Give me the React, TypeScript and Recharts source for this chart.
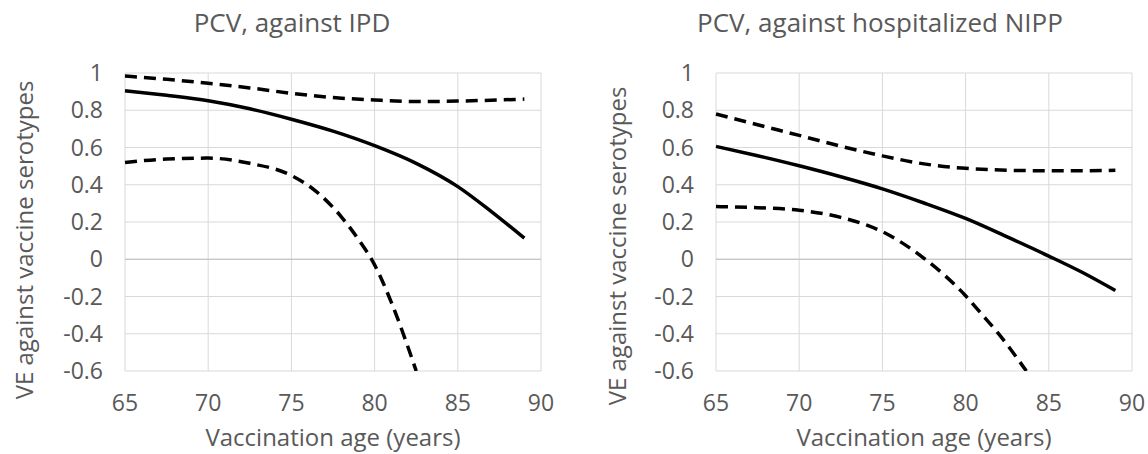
import React from "react";
import { LineChart, Line, XAxis, YAxis, CartesianGrid, ReferenceLine, Label } from "recharts";

const FONT = "'Open Sans', sans-serif";
const TEXT = "#595959";

const ageTicks = [65, 70, 75, 80, 85, 90];
const veTicks = [-0.6, -0.4, -0.2, 0, 0.2, 0.4, 0.6, 0.8, 1];

// ages shared by the mean curve and the upper bound
const ages = [65, 67.5, 70, 72.5, 75, 77.5, 80, 82.5, 85, 87, 89];

// PCV, against IPD
const ipdMean = [0.905, 0.88, 0.851, 0.808, 0.752, 0.688, 0.61, 0.515, 0.39, 0.257, 0.113];
const ipdUpper = [0.984, 0.966, 0.945, 0.92, 0.891, 0.868, 0.855, 0.847, 0.849, 0.854, 0.86];
const ipdLowerAges = [65, 67.5, 70, 72.5, 75, 76.5, 78, 79, 80, 81, 82, 82.5];
const ipdLower = [0.52, 0.538, 0.543, 0.515, 0.45, 0.363, 0.228, 0.11, -0.03, -0.23, -0.47, -0.6];

// PCV, against hospitalized NIPP
const nippMean = [0.606, 0.556, 0.502, 0.443, 0.378, 0.302, 0.219, 0.12, 0.017, -0.07, -0.168];
const nippUpper = [0.78, 0.722, 0.665, 0.607, 0.555, 0.512, 0.488, 0.478, 0.475, 0.475, 0.478];
const nippLowerAges = [65, 67.5, 70, 72.5, 75, 77.5, 80, 81, 82, 83.65];
const nippLower = [0.283, 0.277, 0.263, 0.225, 0.148, 0.005, -0.196, -0.298, -0.402, -0.6];

const toPoints = (xs: number[], ys: number[]) => xs.map((age, i) => ({ age, ve: ys[i] }));

interface PanelProps {
  title: string;
  titleX: number;
  mean: number[];
  upper: number[];
  lowerAges: number[];
  lower: number[];
  yAxisWidth: number;
  marginRight: number;
  yLabelX: number;
  yLabelY: number;
}

const Panel: React.FC<PanelProps> = ({
  title,
  titleX,
  mean,
  upper,
  lowerAges,
  lower,
  yAxisWidth,
  marginRight,
  yLabelX,
  yLabelY,
}) => {
  const tick = { fill: TEXT, fontSize: 23, fontFamily: FONT };
  return (
    <div style={{ position: "relative", width: 574, height: 454 }}>
      <svg width={574} height={50} style={{ position: "absolute", left: 0, top: 0 }}>
        <text x={titleX} y={32} textAnchor="middle" fill={TEXT} fontSize={26} fontFamily={FONT}>
          {title}
        </text>
      </svg>
      <LineChart width={574} height={454} margin={{ top: 73, right: marginRight, bottom: 0, left: 0 }}>
        <CartesianGrid stroke="#d9d9d9" strokeWidth={1} />
        <XAxis
          type="number"
          dataKey="age"
          domain={[65, 90]}
          ticks={ageTicks}
          interval={0}
          axisLine={false}
          tickLine={false}
          tickSize={0}
          tickMargin={24}
          height={83}
          tick={tick}
        >
          <Label
            content={(props: any) => {
              const vb = props.viewBox || {};
              return (
                <text
                  x={vb.x + vb.width / 2}
                  y={vb.y + 75}
                  textAnchor="middle"
                  fill={TEXT}
                  fontSize={24}
                  fontFamily={FONT}
                >
                  Vaccination age (years)
                </text>
              );
            }}
          />
        </XAxis>
        <YAxis
          type="number"
          domain={[-0.6, 1]}
          ticks={veTicks}
          interval={0}
          allowDataOverflow
          axisLine={false}
          tickLine={false}
          tickSize={0}
          tickMargin={22}
          width={yAxisWidth}
          tick={tick}
          tickFormatter={(v: number) => String(v)}
        >
          <Label
            content={() => (
              <text
                x={yLabelX}
                y={yLabelY}
                transform={`rotate(-90 ${yLabelX} ${yLabelY})`}
                textAnchor="middle"
                fill={TEXT}
                fontSize={24}
                fontFamily={FONT}
              >
                VE against vaccine serotypes
              </text>
            )}
          />
        </YAxis>
        <ReferenceLine y={0} stroke="#bfbfbf" strokeWidth={1} />
        <Line
          data={toPoints(ages, upper)}
          dataKey="ve"
          type="monotone"
          stroke="#000"
          strokeWidth={3.5}
          strokeDasharray="12 7"
          dot={false}
          isAnimationActive={false}
        />
        <Line
          data={toPoints(ages, mean)}
          dataKey="ve"
          type="monotone"
          stroke="#000"
          strokeWidth={3.5}
          dot={false}
          isAnimationActive={false}
        />
        <Line
          data={toPoints(lowerAges, lower)}
          dataKey="ve"
          type="monotone"
          stroke="#000"
          strokeWidth={3.5}
          strokeDasharray="12 7"
          dot={false}
          isAnimationActive={false}
        />
      </LineChart>
    </div>
  );
};

export default function App() {
  return (
    <div
      style={{
        position: "absolute",
        left: 0,
        top: 0,
        width: 1148,
        height: 454,
        background: "#fff",
        display: "flex",
      }}
    >
      <Panel
        title="PCV, against IPD"
        titleX={292}
        mean={ipdMean}
        upper={ipdUpper}
        lowerAges={ipdLowerAges}
        lower={ipdLower}
        yAxisWidth={125}
        marginRight={33}
        yLabelX={33}
        yLabelY={240}
      />
      <Panel
        title="PCV, against hospitalized NIPP"
        titleX={306}
        mean={nippMean}
        upper={nippUpper}
        lowerAges={nippLowerAges}
        lower={nippLower}
        yAxisWidth={142}
        marginRight={16}
        yLabelX={52}
        yLabelY={246}
      />
    </div>
  );
}
